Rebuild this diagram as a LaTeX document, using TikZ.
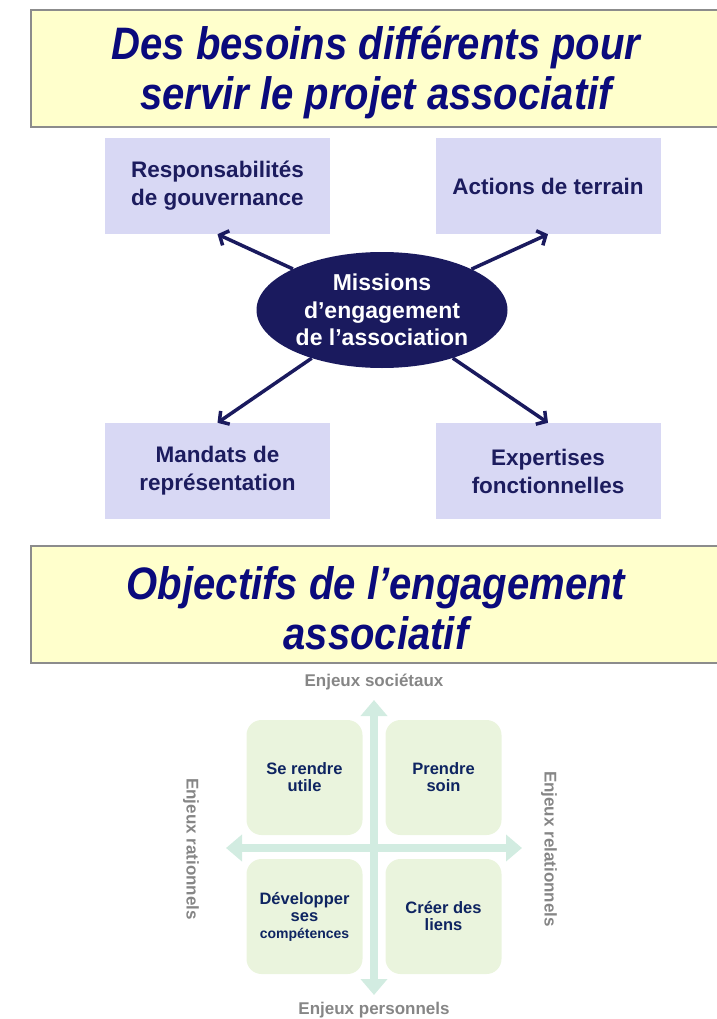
\documentclass[tikz,border=0pt]{standalone}
\usepackage{fontspec}
\setmainfont{Liberation Sans}
\newfontfamily\titlefont[FakeStretch=0.88]{Liberation Sans}
\usetikzlibrary{arrows.meta,shapes.geometric}
\definecolor{titleyellow}{HTML}{FFFFCC}
\definecolor{titlenavy}{HTML}{0A0A7C}
\definecolor{boxlilac}{HTML}{D8D8F4}
\definecolor{boxnavy}{HTML}{1C1C5E}
\definecolor{missnavy}{HTML}{1A1A5E}
\definecolor{axismint}{HTML}{D2ECE1}
\definecolor{quadgreen}{HTML}{EAF4DD}
\definecolor{quadnavy}{HTML}{0E2461}
\definecolor{enjeugray}{HTML}{868686}

\begin{document}
\begin{tikzpicture}[
  x=1pt, y=-1pt,
  title/.style={draw=black!45, line width=2pt, fill=titleyellow, minimum width=690pt,
    minimum height=117pt},
  titletext/.style={align=center, text=titlenavy, yshift=-4pt,
    font=\titlefont\bfseries\itshape\fontsize{45.5}{50}\selectfont},
  need/.style={fill=boxlilac, minimum width=225pt, minimum height=96pt, align=center,
    text=boxnavy, font=\bfseries\fontsize{22.5}{28}\selectfont},
  mission/.style={ellipse, fill=missnavy, minimum width=251pt, minimum height=116pt,
    inner sep=0pt, align=center, text=white, font=\bfseries\fontsize{23}{27.5}\selectfont},
  link/.style={draw=missnavy, line width=3.5pt, -{Straight Barb[length=7pt,width=16pt]}},
  goal/.style={fill=quadgreen, rounded corners=15pt, minimum width=116pt, minimum height=115pt,
    align=center, text=quadnavy, font=\bfseries\fontsize{16.5}{17}\selectfont},
  axis/.style={draw=axismint, line width=8pt,
    {Triangle[length=16pt,width=26pt]}-{Triangle[length=16pt,width=26pt]}},
  stake/.style={text=enjeugray, font=\bfseries\fontsize{17}{20}\selectfont}
]
\useasboundingbox (0,0) rectangle (716,1019);

\node[title] (besoins) at (376,68.5) {};
\node[titletext] (besoinstxt) at (besoins.center) {Des besoins différents pour\\servir le projet associatif};

\node[need] (gouv) at (217.5,186) {Responsabilités\\de gouvernance};
\node[need] (terrain) at (548,186) {Actions de terrain};
\node[need] (mandats) at (217.5,471) {Mandats de\\représentation};
\node[need] (expert) at (548,471) {Expertises\\fonctionnelles};
\node[mission] (missions) at (382,310) {Missions\\d’engagement\\de l’association};

\draw[link] (missions) -- (gouv.south);
\draw[link] (missions) -- (terrain.south);
\draw[link] (missions) -- (mandats.north);
\draw[link] (missions) -- (expert.north);

\node[title] (objectifs) at (376,604) {};
\node[titletext] (objectifstxt) at (objectifs.center) {Objectifs de l’engagement\\associatif};

\coordinate (haut) at (374,700);
\coordinate (bas) at (374,995);
\coordinate (gauche) at (226,848);
\coordinate (droite) at (522,848);
\draw[axis] (bas) -- (haut);
\draw[axis] (gauche) -- (droite);

\node[goal] (utile) at (304.5,777.5) {Se rendre\\utile};
\node[goal] (soin) at (443.5,777.5) {Prendre\\soin};
\node[goal] (comp) at (304.5,916.5) {Développer\\ses\\{\fontsize{14}{16}\selectfont compétences}};
\node[goal] (liens) at (443.5,916.5) {Créer des\\liens};

\node[stake] (soc) at (374,682) {Enjeux sociétaux};
\node[stake] (pers) at (374,1010) {Enjeux personnels};
\node[stake, rotate=-90] (rat) at (191,849) {Enjeux rationnels};
\node[stake, rotate=-90] (rel) at (549,849) {Enjeux relationnels};
\end{tikzpicture}
\end{document}
